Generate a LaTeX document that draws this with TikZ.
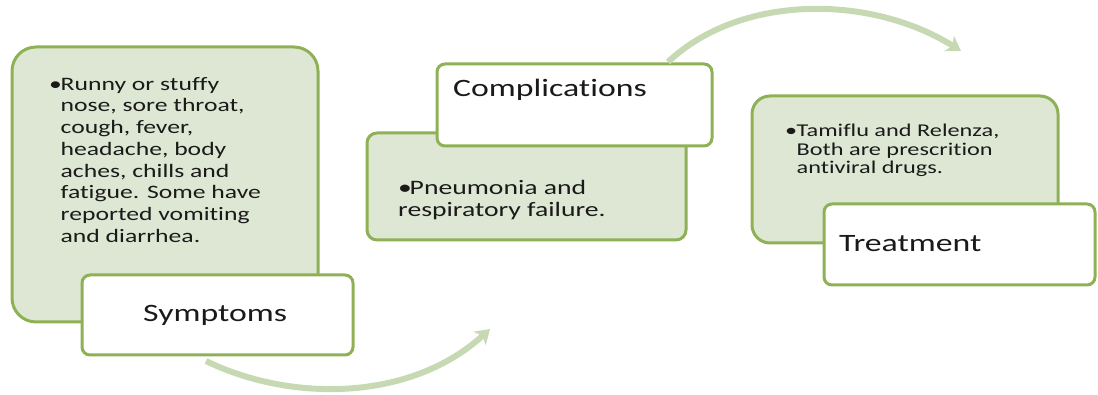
\documentclass[tikz,border=0pt]{standalone}
\usepackage{fontspec}
\setmainfont[FakeStretch=1.35,Ligatures=NoCommon]{Carlito}
\usetikzlibrary{arrows.meta}
\definecolor{gborder}{HTML}{8FB155}
\definecolor{gfill}{HTML}{DDE7D4}
\definecolor{garrow}{HTML}{C6D9B2}
\definecolor{txt}{HTML}{1A1A1A}
\newcommand{\bul}{\makebox[11.5pt][l]{\textbullet}}
\newcommand{\ind}{\hspace*{11.5pt}}
\tikzset{
  x=1pt,y=-1pt,
  infobox/.style={draw=gborder,line width=3pt,fill=gfill,rounded corners=24pt},
  titlebox/.style={draw=gborder,line width=3pt,fill=white,rounded corners=8pt},
  bodytext/.style={anchor=north west,align=left,inner sep=0pt,text=txt},
  titletext/.style={anchor=base west,inner sep=0pt,text=txt,font=\fontsize{25}{28}\selectfont},
  flow/.style={draw=garrow,line width=6pt,-{Stealth[length=14pt,width=18pt,inset=4pt]}}
}
\begin{document}
\begin{tikzpicture}
\useasboundingbox (0,0) rectangle (1098,395);
% Symptoms
\draw[infobox] (12,47) rectangle (318,322);
\node[bodytext,font=\fontsize{19}{21.7}\selectfont] (symtext) at (49,77) {\bul Runny or stuffy\\\ind nose, sore throat,\\\ind cough, fever,\\\ind headache, body\\\ind aches, chills and\\\ind fatigue. Some have\\\ind reported vomiting\\\ind and diarrhea.};
\draw[titlebox] (82,275) rectangle (353,355);
\node[titletext] (sym) at (143,322) {Symptoms};
% Complications
\draw[infobox,rounded corners=10pt] (367,133) rectangle (686,240);
\node[bodytext,font=\fontsize{20.5}{22}\selectfont] (comtext) at (398,180) {\bul Pneumonia and\\respiratory failure.};
\draw[titlebox] (437,64) rectangle (712,146);
\node[titletext] (com) at (453,97) {Complications};
% Treatment
\draw[infobox,rounded corners=18pt] (752,96) rectangle (1058,243);
\node[bodytext,font=\fontsize{18}{18.5}\selectfont] (trtext) at (785,124) {\bul Tamiflu and Relenza,\\\ind Both are prescrition\\\ind antiviral drugs.};
\draw[titlebox] (824,204) rectangle (1095,285);
\node[titletext] (tr) at (839,252) {Treatment};
% arrows
\coordinate (a1s) at (206,361);
\coordinate (a1e) at (490,329);
\coordinate (a2s) at (668,62);
\coordinate (a2e) at (961,51);
\draw[flow] (a1s) .. controls (290,402) and (410,402) .. (a1e);
\draw[flow] (a2s) .. controls (740,-6) and (870,-6) .. (a2e);
\end{tikzpicture}
\end{document}
